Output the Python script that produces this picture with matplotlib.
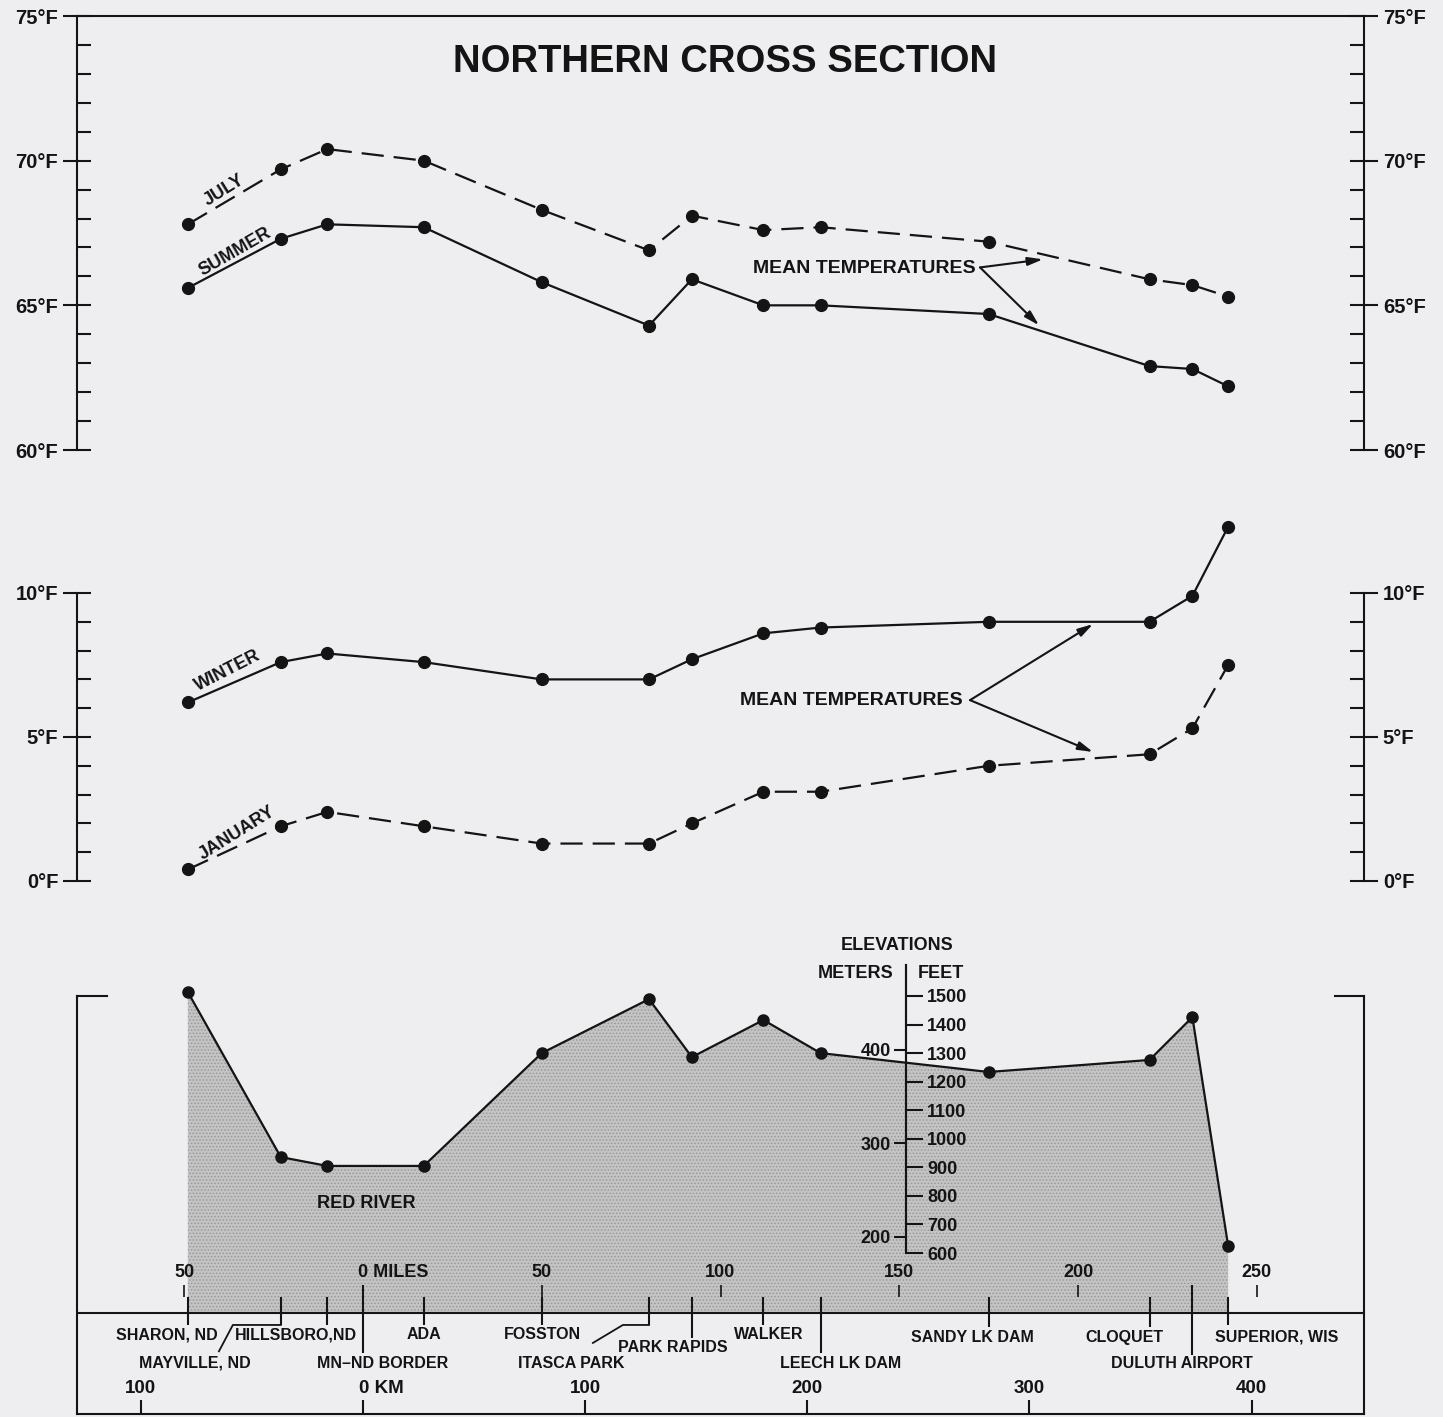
import matplotlib
matplotlib.use('Agg')
import matplotlib.pyplot as plt

plt.rcParams['font.family'] = ['Liberation Sans', 'DejaVu Sans']
plt.rcParams['font.weight'] = 'bold'
plt.rcParams['hatch.linewidth'] = 0.7

# stations along the cross section, miles east of the MN-ND border
stations = ['SHARON, ND', 'MAYVILLE, ND', 'HILLSBORO,ND', 'ADA', 'FOSSTON',
            'ITASCA PARK', 'PARK RAPIDS', 'WALKER', 'LEECH LK DAM',
            'SANDY LK DAM', 'CLOQUET', 'DULUTH AIRPORT', 'SUPERIOR, WIS']
station_miles = [-49, -23, -10, 17, 50, 80, 92, 112, 128, 175, 220, 232, 242]

# mean temperatures, deg F
july = [67.8, 69.7, 70.4, 70.0, 68.3, 66.9, 68.1, 67.6, 67.7, 67.2, 65.9, 65.7, 65.3]
summer = [65.6, 67.3, 67.8, 67.7, 65.8, 64.3, 65.9, 65.0, 65.0, 64.7, 62.9, 62.8, 62.2]
winter = [6.2, 7.6, 7.9, 7.6, 7.0, 7.0, 7.7, 8.6, 8.8, 9.0, 9.0, 9.9, 12.3]
january = [0.4, 1.9, 2.4, 1.9, 1.3, 1.3, 2.0, 3.1, 3.1, 4.0, 4.4, 5.3, 7.5]

# station elevations, feet
elev_ft = [1514, 936, 905, 905, 1300, 1489, 1286, 1416, 1300, 1234, 1276, 1426, 625]
base_ft = 390

mile_ticks = [-50, 0, 50, 100, 150, 200, 250]
mile_labels = ['50', '0 MILES', '50', '100', '150', '200', '250']
km_ticks = [-100, 0, 100, 200, 300, 400]
km_labels = ['100', '0 KM', '100', '200', '300', '400']
feet_ticks = list(range(600, 1501, 100))
meter_ticks = [200, 300, 400]

# label layout under the ground line: (label x in miles, label y, tick bottom)
# y values are fractions of the elevation panel height
label_layout = [(-54.8, 0.189, 0.213), (-47.0, 0.122, 0.213), (-18.7, 0.189, 0.213),
                (17.1, 0.189, 0.213), (50.3, 0.189, 0.213), (58.2, 0.122, 0.213),
                (86.7, 0.158, 0.182), (113.6, 0.189, 0.213), (133.7, 0.122, 0.146),
                (170.6, 0.184, 0.208), (212.9, 0.184, 0.208), (229.1, 0.122, 0.141),
                (255.7, 0.184, 0.213)]

W, H = 1443, 1417
BG = '#eeeef1'
INK = '#141414'


def box(x0, y0, x1, y1):
    # pixel box, origin top left -> figure fraction rect
    return [x0 / W, 1 - y1 / H, (x1 - x0) / W, (y1 - y0) / H]


def temp_axis(ax, lo, hi, top_line):
    ax.set_xlim(-80, 280)
    ax.set_ylim(lo, hi)
    ax.patch.set_visible(False)
    ax.spines['bottom'].set_visible(False)
    ax.spines['top'].set_visible(top_line)
    for s in ax.spines.values():
        s.set_linewidth(1.5)
        s.set_color(INK)
    ax.set_xticks([])
    ax.set_yticks(range(lo, hi + 1, 5))
    ax.set_yticks(range(lo, hi + 1), minor=True)
    ax.set_yticklabels([f'{v}°F' for v in range(lo, hi + 1, 5)])
    ax.tick_params(axis='y', which='both', left=True, right=True,
                   labelleft=True, labelright=True, colors=INK)
    ax.tick_params(axis='y', which='major', direction='inout', length=20,
                   width=1.5, labelsize=14.5, pad=3.5)
    ax.tick_params(axis='y', which='minor', direction='in', length=10, width=1.5)


fig = plt.figure(figsize=(W / 100, H / 100), dpi=100)
fig.patch.set_facecolor(BG)

fig.text(725 / W, 1 - 62 / H, 'NORTHERN CROSS SECTION', ha='center', va='center',
         fontsize=27.5, weight='bold', color=INK)

line_kw = dict(color=INK, lw=1.6, marker='o', ms=8.5, clip_on=False)
dash = (10, 4.5)

# summer / july panel
ax_top = fig.add_axes(box(77, 16, 1364, 450))
temp_axis(ax_top, 60, 75, True)
ax_top.plot(station_miles, july, dashes=dash, **line_kw)
ax_top.plot(station_miles, summer, **line_kw)
ax_top.text(-38.9, 68.97, 'JULY', rotation=32, ha='center', va='center',
            rotation_mode='anchor', fontsize=13, color=INK)
ax_top.text(-35.8, 66.83, 'SUMMER', rotation=30, ha='center', va='center',
            rotation_mode='anchor', fontsize=13, color=INK)
ax_top.text(171.5, 66.28, 'MEAN TEMPERATURES', ha='right', va='center',
            fontsize=14, color=INK)
arrow = dict(arrowstyle='-|>,head_length=0.9,head_width=0.25', color=INK, lw=1.5,
             shrinkA=0, shrinkB=0)
ax_top.annotate('', xy=(190.2, 66.59), xytext=(172.6, 66.31), arrowprops=arrow)
ax_top.annotate('', xy=(189.1, 64.31), xytext=(172.6, 66.31), arrowprops=arrow)

# winter / january panel
ax_bot = fig.add_axes(box(77, 593, 1364, 881))
temp_axis(ax_bot, 0, 10, False)
ax_bot.plot(station_miles, january, dashes=dash, **line_kw)
ax_bot.plot(station_miles, winter, **line_kw)
ax_bot.text(-37.8, 7.29, 'WINTER', rotation=27, ha='center', va='center',
            rotation_mode='anchor', fontsize=13, color=INK)
ax_bot.text(-35.2, 1.67, 'JANUARY', rotation=32, ha='center', va='center',
            rotation_mode='anchor', fontsize=13, color=INK)
ax_bot.text(167.8, 6.28, 'MEAN TEMPERATURES', ha='right', va='center',
            fontsize=14, color=INK)
ax_bot.annotate('', xy=(204.2, 8.92), xytext=(169.8, 6.28), arrowprops=arrow)
ax_bot.annotate('', xy=(204.2, 4.48), xytext=(169.8, 6.28), arrowprops=arrow)

# elevation profile
ax_el = fig.add_axes(box(77, 996, 1364, 1414))
ax_el.set_xlim(-80, 280)
ax_el.set_ylim(1500 - 418 / 0.2856, 1500)
ax_el.patch.set_visible(False)
ax_el.spines['top'].set_visible(False)
for s in ax_el.spines.values():
    s.set_linewidth(1.5)
    s.set_color(INK)
ax_el.set_yticks([])
ax_el.set_xticks([k * 0.621371 for k in km_ticks])
ax_el.tick_params(axis='x', direction='in', length=10, width=1.5,
                  labelbottom=False, colors=INK)

ax_el.fill_between(station_miles, elev_ft, base_ft, facecolor='#c4c4c4',
                   edgecolor='#999999', hatch='.....', lw=0)
ax_el.axhline(base_ft, color=INK, lw=1.5)
ax_el.plot(station_miles, elev_ft, color=INK, lw=1.6, marker='o', ms=8, clip_on=False)

# bracket stubs at the top corners
ax_el.plot([0, 30 / 1287], [1, 1], transform=ax_el.transAxes, color=INK, lw=1.5,
           clip_on=False)
ax_el.plot([1 - 29 / 1287, 1], [1, 1], transform=ax_el.transAxes, color=INK, lw=1.5,
           clip_on=False)

xt = ax_el.get_xaxis_transform()
for k, lab in zip(km_ticks, km_labels):
    m = k * 0.621371
    if lab.startswith('0 '):
        ax_el.text(m - 1.2, 0.062, lab, transform=xt, ha='left', va='center',
                   fontsize=13.5, color=INK)
    else:
        ax_el.text(m, 0.062, lab, transform=xt, ha='center', va='center',
                   fontsize=13.5, color=INK)

ax_el.vlines(mile_ticks, 0.280, 0.309, transform=xt, color=INK, lw=1.2)
for m, lab in zip(mile_ticks, mile_labels):
    if lab.startswith('0 '):
        ax_el.text(m - 1.4, 0.338, lab, transform=xt, ha='left', va='center',
                   fontsize=13, color=INK)
    else:
        ax_el.text(m, 0.338, lab, transform=xt, ha='center', va='center',
                   fontsize=13, color=INK)

# station ticks and names
for name, m, (lx, ly, tb) in zip(stations, station_miles, label_layout):
    top = 0.309 if name == 'DULUTH AIRPORT' else 0.280
    ax_el.vlines(m, tb, top, transform=xt, color=INK, lw=1.5)
    ax_el.text(lx, ly, name, transform=xt, ha='center', va='center',
               fontsize=11.5, color=INK)
# border marker and leader lines
ax_el.vlines(0, 0.146, 0.309, transform=xt, color=INK, lw=1.5)
ax_el.text(5.6, 0.122, 'MN\u2013ND BORDER', transform=xt, ha='center', va='center',
           fontsize=11.5, color=INK)
ax_el.plot([-23, -36.4, -40.3], [0.213, 0.213, 0.150], transform=xt, color=INK, lw=1.3)
ax_el.plot([80, 72.7, 64.3], [0.213, 0.213, 0.170], transform=xt, color=INK, lw=1.3)

ax_el.text(1, 775, 'RED RIVER', ha='center', va='center', fontsize=13, color=INK)
ax_el.text(149.4, 1.12, 'ELEVATIONS', transform=xt, ha='center', va='center',
           fontsize=13, color=INK)
ax_el.text(148.3, 1.055, 'METERS', transform=xt, ha='right', va='center',
           fontsize=13, color=INK)
ax_el.text(155.2, 1.055, 'FEET', transform=xt, ha='left', va='center',
           fontsize=13, color=INK)

# feet / meters scale
ax_ft = fig.add_axes(box(906, 965, 907, 1253))
ax_ft.set_ylim(600, 600 + 288 / 0.2856)
ax_ft.patch.set_visible(False)
for s in ['top', 'right', 'bottom']:
    ax_ft.spines[s].set_visible(False)
ax_ft.spines['left'].set_linewidth(1.5)
ax_ft.spines['left'].set_color(INK)
ax_ft.set_xticks([])
ax_ft.yaxis.tick_right()
ax_ft.set_yticks(feet_ticks)
ax_ft.tick_params(axis='y', direction='out', length=11.5, width=1.5, labelsize=13,
                  pad=3, colors=INK)

ax_m = ax_ft.secondary_yaxis('left', functions=(lambda f: f * 0.3048,
                                                lambda v: v / 0.3048))
ax_m.set_yticks(meter_ticks)
ax_m.tick_params(direction='out', length=9, width=1.5, labelsize=13, pad=2,
                 colors=INK)
ax_m.spines['left'].set_linewidth(1.5)
ax_m.spines['left'].set_color(INK)

fig.savefig('out.png', dpi=100, facecolor=BG)
